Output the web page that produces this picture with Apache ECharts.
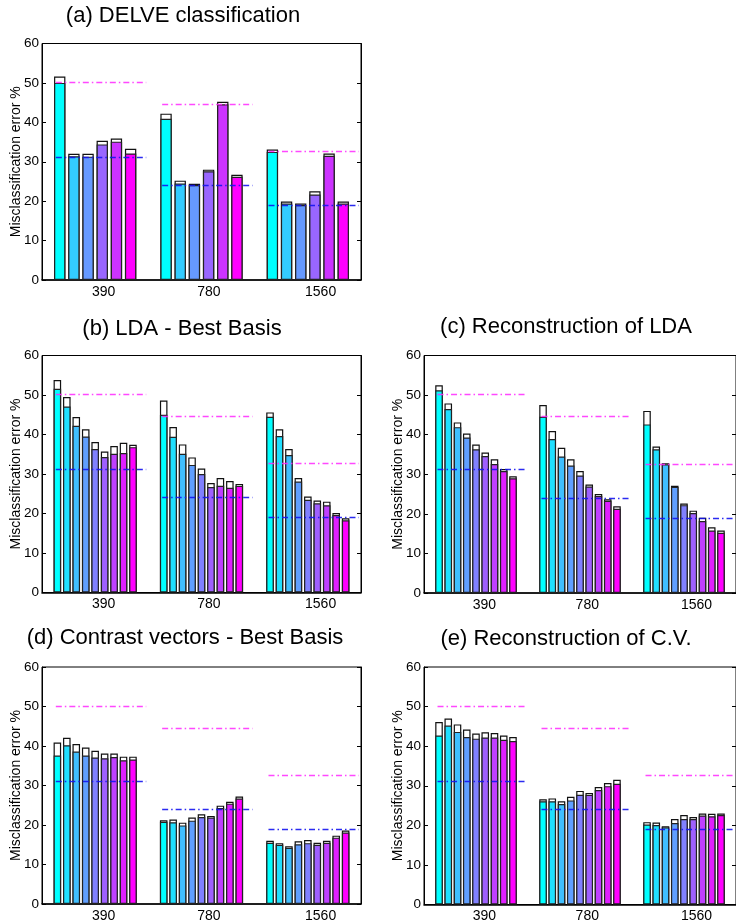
<!DOCTYPE html>
<html><head><meta charset="utf-8">
<script src="https://cdn.jsdelivr.net/npm/echarts@6/dist/echarts.min.js"></script>
<style>html,body{margin:0;padding:0;background:#fff}#c{width:736px;height:924px}</style>
</head><body><div id="c"></div>
<script>
// ---------- data ----------
const groupLabels = ['390', '780', '1560'];
const yTicks = [0, 10, 20, 30, 40, 50, 60];
const refMagenta = [50.1, 44.6, 32.6];
const refBlue = [31.2, 24.0, 19.0];

// (a) DELVE classification
const a390 = [50.0, 31.4, 31.3, 34.4, 35.1, 32.1];
const a390Top = [51.6, 32.0, 32.0, 35.3, 35.9, 33.3];
const a780 = [40.9, 24.5, 24.1, 27.6, 44.6, 26.2];
const a780Top = [42.2, 25.2, 24.4, 28.0, 45.2, 26.7];
const a1560 = [32.5, 19.4, 19.0, 21.7, 31.5, 19.4];
const a1560Top = [33.1, 19.9, 19.4, 22.5, 32.1, 19.9];

// (b) LDA - Best Basis
const b390 = [51.6, 47.1, 42.2, 39.5, 36.3, 34.3, 35.1, 35.3, 36.8];
const b390Top = [53.8, 49.5, 44.4, 41.3, 38.1, 35.7, 37.1, 37.9, 37.4];
const b780 = [45.0, 39.4, 35.1, 32.3, 30.0, 26.7, 27.0, 26.5, 27.0];
const b780Top = [48.6, 41.9, 37.5, 34.2, 31.4, 27.7, 29.0, 28.2, 27.5];
const b1560 = [44.5, 39.6, 34.8, 28.1, 23.5, 22.6, 22.1, 19.6, 18.3];
const b1560Top = [45.6, 41.3, 36.3, 29.0, 24.3, 23.3, 23.0, 20.1, 18.8];

// (c) Reconstruction of LDA
const c390 = [51.2, 46.5, 41.9, 39.3, 36.3, 34.6, 32.6, 30.8, 29.0];
const c390Top = [52.5, 47.9, 43.1, 40.3, 37.5, 35.5, 33.8, 31.3, 29.5];
const c780 = [44.5, 38.9, 34.5, 32.2, 29.7, 26.9, 24.5, 23.3, 21.3];
const c780Top = [47.5, 40.9, 36.7, 33.8, 30.8, 27.4, 25.0, 23.7, 21.9];
const c1560 = [42.6, 36.3, 32.5, 26.8, 22.2, 20.2, 18.2, 15.8, 15.2];
const c1560Top = [46.0, 37.0, 32.8, 27.1, 22.6, 20.8, 19.0, 16.6, 15.8];

// (d) Contrast vectors - Best Basis
const d390 = [37.6, 40.2, 38.6, 37.6, 37.1, 36.9, 37.2, 36.4, 36.6];
const d390Top = [40.9, 42.1, 40.5, 39.6, 38.8, 38.1, 38.1, 37.3, 37.3];
const d780 = [20.8, 20.7, 19.9, 21.1, 22.0, 21.9, 24.3, 25.4, 26.7];
const d780Top = [21.2, 21.4, 20.6, 21.9, 22.7, 22.3, 24.9, 25.9, 27.2];
const d1560 = [15.5, 15.0, 14.2, 15.1, 15.4, 15.0, 15.5, 16.8, 18.1];
const d1560Top = [16.0, 15.4, 14.6, 15.9, 16.2, 15.5, 16.0, 17.3, 18.6];

// (e) Reconstruction of C.V.
const e390 = [42.7, 45.2, 43.6, 42.3, 41.9, 42.2, 42.2, 41.6, 41.3];
const e390Top = [46.1, 47.0, 45.5, 44.2, 43.2, 43.5, 43.3, 42.7, 42.3];
const e780 = [26.1, 26.1, 25.4, 26.3, 27.7, 27.7, 28.9, 29.9, 30.5];
const e780Top = [26.6, 26.8, 26.1, 27.2, 28.7, 28.2, 29.7, 30.7, 31.5];
const e1560 = [20.2, 20.1, 19.5, 20.6, 21.6, 21.6, 22.5, 22.3, 22.6];
const e1560Top = [20.8, 20.7, 19.8, 21.6, 22.6, 22.1, 23.0, 22.9, 23.0];

// ---------- layout / style ----------
const FONT = '"Liberation Sans", Arial, Helvetica, sans-serif';
const GRID_W = 319;
const labelPos = [1.08, 2.07, 3.12];
const panels = [
  { title: '(a) DELVE classification', tx: 183, ty: 16, left: 42, top: 43.5, h: 236.5,
    low: [a390, a780, a1560], high: [a390Top, a780Top, a1560Top] },
  { title: '(b) LDA - Best Basis', tx: 182, ty: 329, left: 42, top: 355.5, h: 237,
    low: [b390, b780, b1560], high: [b390Top, b780Top, b1560Top] },
  { title: '(c) Reconstruction of LDA', tx: 566, ty: 327, left: 424, top: 355.5, h: 237.5,
    low: [c390, c780, c1560], high: [c390Top, c780Top, c1560Top] },
  { title: '(d) Contrast vectors - Best Basis', tx: 185, ty: 638, left: 42, top: 667, h: 237,
    low: [d390, d780, d1560], high: [d390Top, d780Top, d1560Top] },
  { title: '(e) Reconstruction of C.V.', tx: 566, ty: 639, left: 424, top: 667, h: 237.5,
    low: [e390, e780, e1560], high: [e390Top, e780Top, e1560Top] }
];

function coolColor(i, n) {
  const t = n === 1 ? 0 : i / (n - 1);
  const r = Math.round(255 * t), g = Math.round(255 * (1 - t));
  return 'rgb(' + r + ',' + g + ',255)';
}

const option = {
  animation: false,
  backgroundColor: '#fff',
  textStyle: { fontFamily: FONT },
  grid: [], xAxis: [], yAxis: [], series: [],
  graphic: []
};

panels.forEach((p, k) => {
  const n = p.low[0].length;
  const slot = 0.8 / n;
  const barW = 0.8 * slot * GRID_W / 3;
  option.grid.push({ left: p.left, top: p.top, width: GRID_W, height: p.h,
    show: true, borderColor: '#000', borderWidth: 1, backgroundColor: 'rgba(0,0,0,0)' });
  option.xAxis.push({
    type: 'value', gridIndex: k, min: 0.5, max: 3.5,
    axisLine: { show: true, onZero: false, lineStyle: { color: '#000', width: 1.6 } },
    axisTick: { show: false }, splitLine: { show: false },
    axisLabel: { customValues: labelPos, margin: 5, fontSize: 14, color: '#000', fontFamily: FONT,
      formatter: v => groupLabels[Math.round(v) - 1] }
  });
  option.yAxis.push({
    type: 'value', gridIndex: k, min: 0, max: 60, interval: 10, position: 'left',
    name: 'Misclassification error %', nameLocation: 'middle', nameGap: 19, nameRotate: 90,
    nameMoveOverlap: false,
    nameTextStyle: { fontSize: 14, color: '#000', fontFamily: FONT },
    axisLine: { show: true, lineStyle: { color: '#000', width: 1 } },
    axisTick: { show: true, inside: true, length: 4, lineStyle: { color: '#000' } },
    splitLine: { show: false },
    axisLabel: { customValues: yTicks, margin: 3, fontSize: 13.5, color: '#000', fontFamily: FONT }
  });
  option.yAxis.push({
    type: 'value', gridIndex: k, min: 0, max: 60, interval: 10, position: 'right',
    axisLine: { show: true, lineStyle: { color: '#000', width: 1 } },
    axisTick: { show: true, inside: true, length: 4, lineStyle: { color: '#000' } },
    splitLine: { show: false }, axisLabel: { show: false }
  });
  const hiData = [], loData = [];
  for (let g = 0; g < 3; g++) {
    for (let i = 0; i < n; i++) {
      const x = (g + 1) + (i - (n - 1) / 2) * slot;
      hiData.push([x, p.high[g][i]]);
      loData.push({ value: [x, p.low[g][i]], itemStyle: { color: coolColor(i, n) } });
    }
  }
  const dashDot = [6, 3, 1.5, 3];
  const mlData = [];
  for (let g = 0; g < 3; g++) {
    mlData.push([{ coord: [g + 1 - 0.37, refMagenta[g]], lineStyle: { color: 'rgba(255,40,255,0.85)', type: dashDot, width: 1.3 } },
                 { coord: [g + 1 + 0.48, refMagenta[g]] }]);
    mlData.push([{ coord: [g + 1 - 0.37, refBlue[g]], lineStyle: { color: 'rgba(20,20,240,0.9)', type: dashDot, width: 1.3 } },
                 { coord: [g + 1 + 0.48, refBlue[g]] }]);
  }
  option.series.push({
    type: 'bar', xAxisIndex: k, yAxisIndex: 2 * k, barWidth: barW, barGap: '-100%',
    data: hiData, silent: true,
    itemStyle: { color: '#fff', borderColor: '#111', borderWidth: 1.2 }
  });
  option.series.push({
    type: 'bar', xAxisIndex: k, yAxisIndex: 2 * k, barWidth: barW, barGap: '-100%',
    data: loData, silent: true,
    itemStyle: { borderColor: '#222', borderWidth: 1.2 },
    markLine: { silent: true, symbol: ['none', 'none'], label: { show: false }, animation: false,
      data: mlData }
  });
  option.graphic.push({
    type: 'text', x: p.tx, y: p.ty, silent: true,
    style: { text: p.title, fill: '#000', font: '22px ' + FONT, align: 'center', verticalAlign: 'middle' }
  });
});

const chart = echarts.init(document.getElementById('c'), null, { renderer: 'canvas', devicePixelRatio: 1 });
chart.setOption(option);
</script>
</body></html>
